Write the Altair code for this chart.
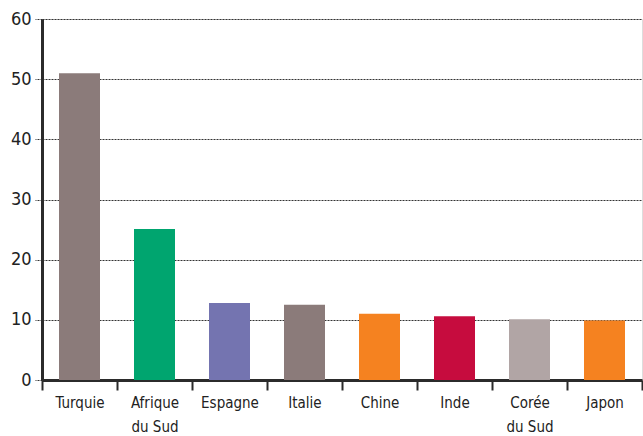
import altair as alt
import pandas as pd

countries = ["Turquie", "Afrique du Sud", "Espagne", "Italie", "Chine", "Inde", "Corée du Sud", "Japon"]
values = [51.0, 25.1, 12.8, 12.5, 11.0, 10.6, 10.1, 9.9]
colors = ["#8B7B7A", "#00A56F", "#7474B0", "#8B7B7A", "#F58220", "#C60C3E", "#B1A5A5", "#F58220"]

df = pd.DataFrame({"pays": countries, "valeur": values, "couleur": colors})

FONT = "DejaVu Sans Condensed"

chart = alt.Chart(df).mark_bar(size=41).encode(
    x=alt.X("pays:N", sort=countries, title=None,
            scale=alt.Scale(paddingInner=0, paddingOuter=0),
            axis=alt.Axis(labelAngle=0, tickBand="extent", tickSize=10, tickWidth=2,
                          tickColor="#2b2b2b", domainColor="#2b2b2b", domainWidth=3,
                          labelFont=FONT, labelFontSize=15, labelColor="#222",
                          labelPadding=5, labelLineHeight=24,
                          labelExpr="datum.value ? split(replace(datum.value, ' du ', '|du '), '|') : ''",
                          grid=False)),
    y=alt.Y("valeur:Q", title=None,
            scale=alt.Scale(domain=[0, 60], nice=False),
            axis=alt.Axis(values=[0, 10, 20, 30, 40, 50, 60], tickSize=7, tickWidth=1,
                          tickDash=[2, 1], tickColor="#333",
                          domainColor="#2b2b2b", domainWidth=3,
                          grid=True, gridDash=[2, 1], gridColor="#333", gridWidth=1,
                          labelFont=FONT, labelFontSize=18, labelColor="#222",
                          labelPadding=4)),
    color=alt.Color("couleur:N", scale=None),
).properties(
    width=600, height=361,
    autosize=alt.AutoSizeParams(type="none"),
    padding={"left": 42, "top": 19, "right": 1, "bottom": 56},
).configure_view(stroke=None).configure(background="white")

chart.save("out.html", embed_options={"renderer": "svg", "actions": False})
